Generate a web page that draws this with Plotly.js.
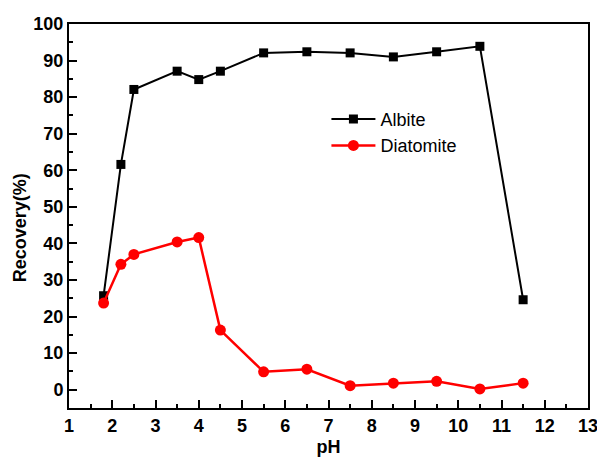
<!DOCTYPE html>
<html>
<head>
<meta charset="utf-8">
<script src="https://cdn.plot.ly/plotly-3.0.1.min.js"></script>
<style>html,body{margin:0;padding:0;background:#fff;}#chart{width:597px;height:459px;}</style>
</head>
<body>
<div id="chart"></div>
<script>
const albitePH = [1.8, 2.2, 2.5, 3.5, 4.0, 4.5, 5.5, 6.5, 7.5, 8.5, 9.5, 10.5, 11.5];
const albiteRecovery = [25.7, 61.6, 82.1, 87.1, 84.8, 87.1, 92.1, 92.4, 92.1, 91.0, 92.4, 93.9, 24.6];
const diatomitePH = [1.8, 2.2, 2.5, 3.5, 4.0, 4.5, 5.5, 6.5, 7.5, 8.5, 9.5, 10.5, 11.5];
const diatomiteRecovery = [23.7, 34.3, 37.0, 40.4, 41.6, 16.3, 4.9, 5.6, 1.1, 1.8, 2.3, 0.2, 1.8];
const xTicks = [1,2,3,4,5,6,7,8,9,10,11,12,13];
const yTicks = [0,10,20,30,40,50,60,70,80,90,100];
const yTitle = 'Recovery(%)';
const xTitle = 'pH';

const FONT = 'Liberation Sans, Arial, sans-serif';
const W = 597, H = 459, M = {l: 69, r: 9, t: 24, b: 51};
const XR = [1, 13], YR = [-5, 100];
const MAJ = 8;

const traces = [
  {x: albitePH, y: albiteRecovery, name: 'Albite', type: 'scatter', mode: 'lines+markers',
   line: {color: '#000000', width: 2}, marker: {symbol: 'square', size: 9, color: '#000000'}},
  {x: diatomitePH, y: diatomiteRecovery, name: 'Diatomite', type: 'scatter', mode: 'lines+markers',
   line: {color: '#ff0000', width: 2.5}, marker: {symbol: 'circle', size: 11, color: '#ff0000'}}
];

const tickFont = {family: FONT, size: 18, color: '#000', weight: 'bold'};
const layout = {
  width: W, height: H,
  margin: M,
  showlegend: true,
  legend: {x: 0.496, y: 0.80, xanchor: 'left', yanchor: 'top', bgcolor: 'rgba(0,0,0,0)',
           itemwidth: 44, font: {family: FONT, size: 18, color: '#000'}, tracegroupgap: 0},
  xaxis: {
    range: XR, tickmode: 'array', tickvals: xTicks,
    ticks: 'inside', ticklen: MAJ, tickwidth: 2, tickcolor: '#000', ticklabeloverflow: 'allow',
    minor: {dtick: 0.5, tick0: 1, ticks: 'inside', ticklen: 4, tickwidth: 2, tickcolor: '#000'},
    showline: true, linewidth: 2, linecolor: '#000', mirror: true,
    showgrid: false, zeroline: false, tickfont: tickFont,
    title: {text: xTitle, font: {family: FONT, size: 18, color: '#000', weight: 'bold'}, standoff: 6}
  },
  yaxis: {
    range: YR, tickmode: 'array', tickvals: yTicks,
    ticks: 'inside', ticklen: MAJ, tickwidth: 2, tickcolor: '#000',
    minor: {dtick: 5, tick0: 0, ticks: 'inside', ticklen: 4, tickwidth: 2, tickcolor: '#000'},
    showline: true, linewidth: 2, linecolor: '#000', mirror: true,
    showgrid: false, zeroline: false, tickfont: tickFont
  },
  annotations: [{
    text: yTitle, xref: 'paper', yref: 'paper', x: -0.095, y: 0.47, xanchor: 'center', yanchor: 'middle',
    textangle: -90, showarrow: false, font: {family: FONT, size: 18, color: '#000', weight: 'bold'}
  }]
};
Plotly.newPlot('chart', traces, layout, {displayModeBar: false, staticPlot: true});
</script>
</body>
</html>
